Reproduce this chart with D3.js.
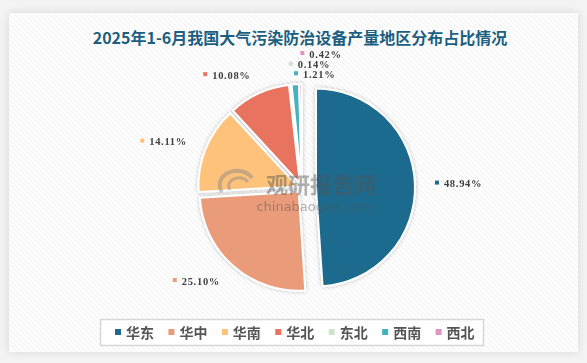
<!DOCTYPE html>
<html>
<head>
<meta charset="utf-8">
<script src="https://cdn.jsdelivr.net/npm/d3@7"></script>
<style>
  html, body { margin: 0; padding: 0; background: #f3f3f3; }
  svg { display: block; }
</style>
</head>
<body>
<div id="chart"></div>
<script>
// data
const categories = ['华东', '华中', '华南', '华北', '东北', '西南', '西北'];
const shares     = [48.94, 25.10, 14.11, 10.08, 0.14, 1.21, 0.42];
const colors     = ['#1d6a8d', '#e99b7a', '#fec27a', '#e8735f', '#cfe2cb', '#45b2bf', '#e095c0'];
const titleText  = '2025年1-6月我国大气污染防治设备产量地区分布占比情况';

var width = 587,
    height = 363;

var svg = d3.select('#chart')
    .append('svg')
        .attr('width', width)
        .attr('height', height);

var defs = svg.append('defs');

// faint diagonal hatch on the card
var pat = defs.append('pattern')
    .attr('id', 'hatch')
    .attr('width', 5)
    .attr('height', 5)
    .attr('patternUnits', 'userSpaceOnUse');
pat.append('rect').attr('width', 5).attr('height', 5).attr('fill', '#ffffff');
pat.append('path')
    .attr('d', 'M-1,-1 L6,6 M-1,4 L1,6 M4,-1 L6,1')
    .attr('stroke', '#efefef')
    .attr('stroke-width', 1);

var cardShadow = defs.append('filter').attr('id', 'cardShadow')
    .attr('x', '-5%').attr('y', '-5%').attr('width', '110%').attr('height', '110%');
cardShadow.append('feGaussianBlur').attr('in', 'SourceAlpha').attr('stdDeviation', 4);
cardShadow.append('feComponentTransfer').append('feFuncA').attr('type', 'linear').attr('slope', 0.12);
var m1 = cardShadow.append('feMerge');
m1.append('feMergeNode');
m1.append('feMergeNode').attr('in', 'SourceGraphic');

var sliceShadow = defs.append('filter').attr('id', 'sliceShadow')
    .attr('x', '-20%').attr('y', '-20%').attr('width', '140%').attr('height', '140%');
sliceShadow.append('feGaussianBlur').attr('in', 'SourceAlpha').attr('stdDeviation', 2);
sliceShadow.append('feComponentTransfer').append('feFuncA').attr('type', 'linear').attr('slope', 0.25);
var m2 = sliceShadow.append('feMerge');
m2.append('feMergeNode');
m2.append('feMergeNode').attr('in', 'SourceGraphic');

// card
svg.append('rect')
    .attr('x', 9).attr('y', 13)
    .attr('width', 569).attr('height', 339)
    .attr('fill', 'url(#hatch)')
    .attr('filter', 'url(#cardShadow)');

// title
svg.append('text')
    .attr('x', 300)
    .attr('y', 44)
    .attr('text-anchor', 'middle')
    .attr('font-family', '"Noto Sans CJK SC", sans-serif')
    .attr('font-size', 16)
    .attr('font-weight', 'bold')
    .attr('fill', '#1d5f7f')
    .text(titleText);

// pie
var cx = 302, cy = 188, radius = 99;
var labelRadius = 119;
function explode(i) { return i === 0 ? 14 : 5; }

var pie = d3.pie()
    .sort(null)
    .value(d => d.value);
var data_ready = pie(shares.map((v, i) => ({ key: i, value: v })));

var arc = d3.arc()
    .innerRadius(0)
    .outerRadius(radius);

var color = d3.scaleOrdinal()
    .domain(categories)
    .range(colors);

function midAngle(d) { return (d.startAngle + d.endAngle) / 2; }
function offsetOf(d) {
    var a = midAngle(d), o = explode(d.index);
    return [o * Math.sin(a), -o * Math.cos(a)];
}

var g = svg.append('g')
    .attr('transform', 'translate(' + cx + ',' + cy + ')');

g.append('g')
    .attr('filter', 'url(#sliceShadow)')
    .selectAll('path')
    .data(data_ready)
    .enter()
    .append('path')
        .attr('d', arc)
        .attr('transform', d => 'translate(' + offsetOf(d) + ')')
        .attr('fill', d => color(categories[d.index]))
        .attr('stroke', 'white')
        .attr('stroke-width', 2)
        .attr('stroke-linejoin', 'round');

// watermark
var wm = svg.append('g').attr('opacity', 0.45);
wm.append('path')
    .attr('d', 'M222,192 A17,14 0 1 1 252,178')
    .attr('fill', 'none').attr('stroke', '#888').attr('stroke-width', 4);
wm.append('path')
    .attr('d', 'M230,190 A10,8 0 1 1 248,182')
    .attr('fill', 'none').attr('stroke', '#888').attr('stroke-width', 3);
wm.append('text')
    .attr('x', 321).attr('y', 193)
    .attr('text-anchor', 'middle')
    .attr('font-family', '"Noto Sans CJK SC", sans-serif')
    .attr('font-size', 22).attr('font-weight', 'bold')
    .attr('fill', '#555')
    .text('观研报告网');
wm.append('text')
    .attr('x', 314).attr('y', 211)
    .attr('text-anchor', 'middle')
    .attr('font-family', '"DejaVu Sans", sans-serif')
    .attr('font-size', 13)
    .attr('fill', '#555')
    .text('chinabaogao.com');

// labels: marker square + value, placed along the mid angle, then de-overlapped
var fmt = d3.format('.2f');
var labelH = 10;
var labels = data_ready.map(function(d) {
    var a = midAngle(d), off = offsetOf(d);
    return {
        d: d,
        x: cx + off[0] + labelRadius * Math.sin(a),
        y: cy + off[1] - labelRadius * Math.cos(a),
        left: Math.sin(a) > -0.15,
        text: fmt(d.data.value) + '%'
    };
});

var lg = svg.append('g');
labels.forEach(function(l) {
    l.node = lg.append('g');
    l.textEl = l.node.append('text')
        .attr('font-family', '"Liberation Serif", serif')
        .attr('font-size', 10.5)
        .attr('font-weight', 'bold')
        .attr('letter-spacing', 0.7)
        .attr('fill', '#3f3f3f')
        .attr('dominant-baseline', 'central')
        .text(l.text);
    l.w = l.textEl.node().getComputedTextLength() + 9;
    l.x0 = l.left ? l.x : l.x - l.w;
});

var placed = [];
labels.forEach(function(l) {
    var steps = [0, 1, -1, 2, -2, 3, -3];
    for (var k = 0; k < steps.length; k++) {
        var y = l.y + steps[k] * labelH;
        var hit = placed.some(p => Math.abs(p.y - y) < labelH - 0.5 &&
            l.x0 < p.x0 + p.w && p.x0 < l.x0 + l.w);
        if (!hit) { l.y = y; break; }
    }
    placed.push(l);
    l.node.append('rect')
        .attr('x', l.x0)
        .attr('y', l.y - 3)
        .attr('width', 4)
        .attr('height', 4)
        .attr('fill', color(categories[l.d.index]));
    l.textEl.attr('x', l.x0 + 9).attr('y', l.y);
});

// legend
var legend = svg.append('g');
legend.append('rect')
    .attr('x', 100.5).attr('y', 319.5)
    .attr('width', 383).attr('height', 26)
    .attr('fill', '#ffffff')
    .attr('stroke', '#d6d6d6')
    .attr('stroke-width', 1.5);

var lx = d3.scaleBand()
    .domain(categories)
    .range([108, 482]);

var items = legend.selectAll('g.item')
    .data(categories)
    .enter()
    .append('g')
        .attr('class', 'item')
        .attr('transform', d => 'translate(' + lx(d) + ',332)');
items.append('rect')
    .attr('x', 7).attr('y', -3)
    .attr('width', 6).attr('height', 6)
    .attr('fill', d => color(d));
items.append('text')
    .attr('x', 18).attr('y', 0)
    .attr('dominant-baseline', 'central')
    .attr('font-family', '"Noto Sans CJK SC", sans-serif')
    .attr('font-size', 14)
    .attr('font-weight', 'bold')
    .attr('fill', '#555')
    .text(d => d);
</script>
</body>
</html>
